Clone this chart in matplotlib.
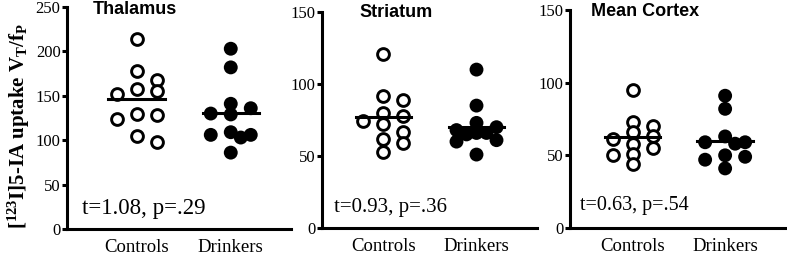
import numpy as np
import matplotlib
matplotlib.use('Agg')
import matplotlib.pyplot as plt

plt.rcParams['mathtext.fontset'] = 'custom'
plt.rcParams['mathtext.rm'] = 'Liberation Serif:bold'
plt.rcParams['mathtext.it'] = 'Liberation Serif:bold'
plt.rcParams['mathtext.bf'] = 'Liberation Serif:bold'

regions = ['Thalamus', 'Striatum', 'Mean Cortex']
groups = ['Controls', 'Drinkers']

ctrl_thal = [214, 178, 168, 158, 155, 152, 129, 128, 124, 105, 98]
drink_thal = [203, 182, 141, 136, 130, 129, 109, 106, 106, 103, 86]
ctrl_str = [121, 92, 89, 80, 78, 74, 72, 67, 62, 59, 53]
drink_str = [110, 85, 73, 70, 68, 66, 66, 65, 61, 60, 51]
ctrl_ctx = [95, 73, 70, 66, 63, 61, 58, 55, 51, 50, 44]
drink_ctx = [91, 82, 63, 59, 59, 58, 50, 49, 47, 41]

stats = ['t=1.08, p=.29', 't=0.93, p=.36', 't=0.63, p=.54']
ymax = [250, 150, 150]

W, H = 787, 257
fig = plt.figure(figsize=(W / 100, H / 100), dpi=100)

# axes boxes in pixels: left, right, bottom(y of 0), top(y of ymax)
boxes = [(67, 291, 229, 7), (322, 537, 228, 12), (570, 787, 228, 10)]
xlims = [(0.26, 2.64), (0.34, 2.65), (0.32, 2.67)]
title_pos = [(135, 9), (396, 12), (645, 11)]
stat_pos = [(82, 214, 16.5), (334, 212, 15), (580, 210, 14.5)]


def swarm_x(ax, x0, vals, step_px=20, diam_px=10):
    # simple greedy beeswarm in pixel space
    order = np.argsort(vals)[::-1]
    placed = []
    offs = np.zeros(len(vals))
    ppu = ax.transData.transform((1, 0))[0] - ax.transData.transform((0, 0))[0]
    for i in order:
        py = ax.transData.transform((x0, vals[i]))[1]
        for k in [0, 1, -1, 0.5, -0.5, 1.5, -1.5, 2, -2]:
            px = k * step_px
            if all((px - qx) ** 2 + (py - qy) ** 2 >= diam_px ** 2 for qx, qy in placed):
                break
        placed.append((px, py))
        offs[i] = px / ppu
    return x0 + offs


data = [(ctrl_thal, drink_thal), (ctrl_str, drink_str), (ctrl_ctx, drink_ctx)]

for i in range(3):
    l, r, b, t = boxes[i]
    ax = fig.add_axes([l / W, (H - b) / H, (r - l) / W, (b - t) / H])
    ax.set_xlim(*xlims[i])
    ax.set_ylim(0, ymax[i])
    ax.spines['top'].set_visible(False)
    ax.spines['right'].set_visible(False)
    for s in ['left', 'bottom']:
        ax.spines[s].set_linewidth(2.2)
    ax.set_yticks(np.arange(0, ymax[i] + 1, 50))
    ax.set_xticks([1, 2])
    ax.set_xticklabels(groups, family='Liberation Serif', fontsize=13.5)
    ax.tick_params(axis='x', length=0, pad=7)
    ax.tick_params(axis='y', length=3.6, width=2.2, pad=1, labelsize=12)
    for lab in ax.get_yticklabels():
        lab.set_family('Liberation Serif')

    c, d = data[i]
    xc = swarm_x(ax, 1, np.array(c, float))
    xd = swarm_x(ax, 2, np.array(d, float))
    ax.scatter(xc, c, s=72, facecolor='white', edgecolor='black', linewidth=2.1, zorder=3, clip_on=False)
    ax.scatter(xd, d, s=100, facecolor='black', edgecolor='none', zorder=3, clip_on=False)
    ax.plot([0.7, 1.3], [np.mean(c)] * 2, color='black', lw=2.2, zorder=4)
    ax.plot([1.7, 2.3], [np.mean(d)] * 2, color='black', lw=2.2, zorder=4)

    tx, ty = title_pos[i]
    fig.text(tx / W, 1 - ty / H, regions[i], family='Liberation Sans', weight='bold',
             fontsize=13, ha='center', va='center')
    sx, sy, fs = stat_pos[i]
    fig.text(sx / W, 1 - sy / H, stats[i], family='Liberation Serif', fontsize=fs,
             ha='left', va='baseline')

fig.text(19 / W, 1 - 126 / H, r'[$^{\mathrm{123}}$I]5-IA uptake V$_{\mathrm{T}}$/f$_{\mathrm{P}}$',
         family='Liberation Serif', weight='bold', fontsize=15, rotation=90,
         ha='center', va='center')

fig.savefig('out.png', dpi=100)
